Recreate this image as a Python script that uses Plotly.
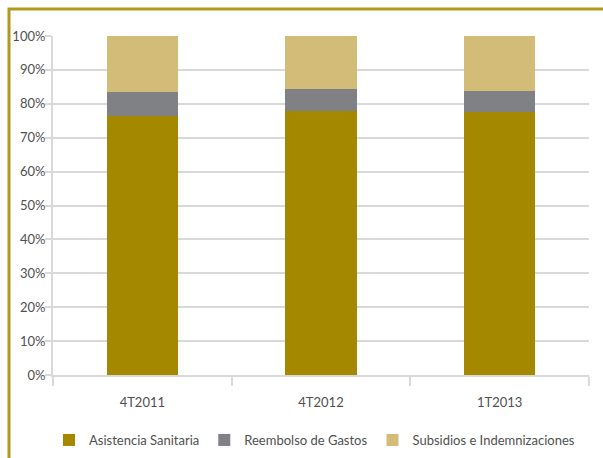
import plotly.graph_objects as go

categories = ["4T2011", "4T2012", "1T2013"]
asistencia = [76.5, 77.8, 77.7]
reembolso = [7.0, 6.6, 6.1]
subsidios = [16.5, 15.6, 16.2]
series_names = ["Asistencia Sanitaria", "Reembolso de Gastos", "Subsidios e Indemnizaciones"]
colors = ["#A38800", "#808184", "#D2BC78"]

W, H = 603, 458
ml, mr, mt, mb = 53, 14, 36, 83
pw, ph = W - ml - mr, H - mt - mb

fig = go.Figure()
for name, vals, c in zip(series_names, [asistencia, reembolso, subsidios], colors):
    fig.add_trace(go.Bar(x=categories, y=vals, name=name, marker=dict(color=c, line=dict(width=0)), width=0.4))

def px_x(p):
    return (p - ml) / pw

def px_y(p):
    return 1 - (p - mt) / ph

fig.add_shape(type="path", xref="paper", yref="paper",
              path=f"M {px_x(9)},{px_y(470)} L {px_x(9)},{px_y(9)} L {px_x(620)},{px_y(9)}",
              line=dict(color="#B09A1C", width=3))

font = "Lato"
fig.update_layout(
    width=W, height=H,
    margin=dict(l=ml, r=mr, t=mt, b=mb, autoexpand=False),
    barmode="stack",
    plot_bgcolor="white", paper_bgcolor="white",
    font=dict(family=font, size=13, color="#505050"),
    showlegend=True,
    legend=dict(orientation="h", x=px_x(49), xanchor="left", y=px_y(440), yanchor="middle",
                traceorder="normal", font=dict(size=13, color="#505050"),
                itemwidth=30),
    xaxis=dict(showgrid=False, showline=True, linecolor="#D9D9D9", linewidth=2, automargin=False,
               ticks="outside", tickson="boundaries", ticklen=9, tickcolor="#D9D9D9", tickwidth=2,
               ticklabelstandoff=14,
               tickfont=dict(size=13, color="#505050")),
    yaxis=dict(range=[0, 100], dtick=10, ticksuffix="%", showgrid=True, gridcolor="#D9D9D9", gridwidth=2,
               showline=True, linecolor="#D9D9D9", linewidth=2, ticks="outside", ticklen=6,
               tickcolor="#D9D9D9", tickwidth=2, zeroline=False, automargin=False,
               ticklabelstandoff=-3,
               tickfont=dict(size=13, color="#505050")),
)

fig.write_html("out.html", config={"displayModeBar": False},
               post_script="document.body.style.margin='0';")
